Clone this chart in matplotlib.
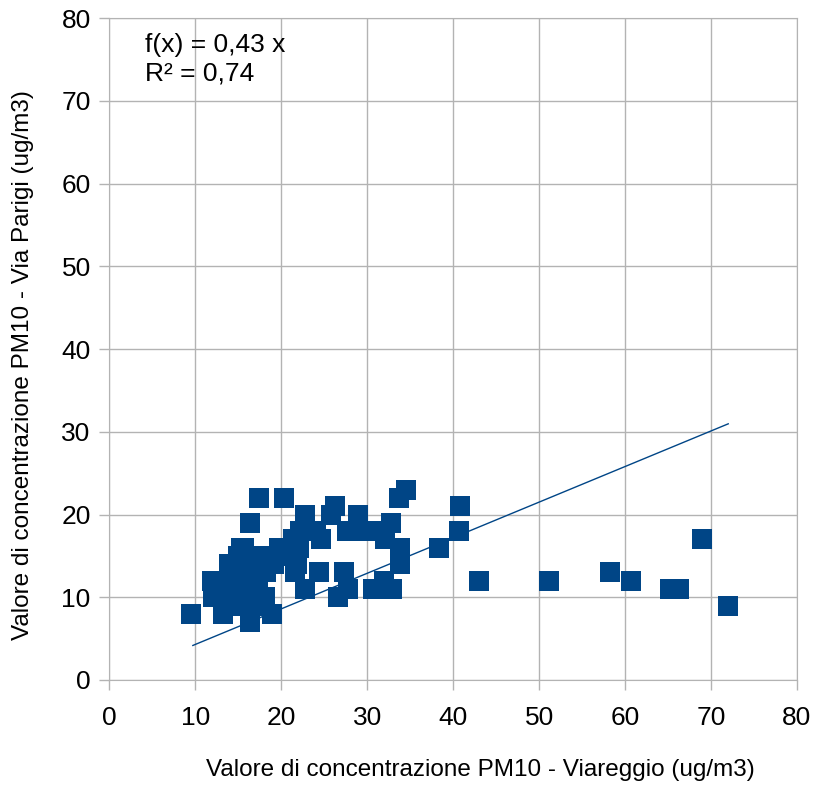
import matplotlib
matplotlib.use("Agg")
import matplotlib.pyplot as plt
import numpy as np

plt.rcParams['font.family'] = ['Liberation Sans', 'DejaVu Sans']

# PM10 Viareggio (x) vs Via Parigi (y), ug/m3
viareggio = [9.5, 72.0, 69.0, 66.3, 65.2, 60.7, 58.3, 51.2, 43.0, 40.8, 40.7, 38.3,
             34.5, 33.7, 33.8, 33.8, 32.8, 32.1, 32.0, 30.7, 32.9, 29.9, 28.9, 27.6,
             27.7, 27.3, 26.6, 26.3, 25.8, 24.6, 24.4, 23.5, 22.8, 22.8, 21.6, 21.4,
             20.3, 17.4, 16.4, 16.4, 18.9, 13.2, 19.7, 17.9, 15.3, 15.6, 13.9, 11.95,
             12.0, 15.4, 18.1, 24.0, 30.5, 22.2, 14.0, 15.0, 16.0, 17.0, 14.2, 15.2,
             16.2, 17.2, 19.0, 20.0, 21.0, 13.0, 14.5, 16.5, 17.5, 18.2, 19.2, 20.5,
             21.5, 22.0, 21.8, 16.0, 15.0, 17.3, 13.2, 12.6, 15.1, 14.3, 16.3, 28.0]
via_parigi = [8, 9, 17, 11, 11, 12, 13, 12, 12, 21, 18, 16,
              23, 22, 16, 14, 19, 17, 12, 11, 11, 18, 20, 18,
              11, 13, 10, 21, 20, 17, 13, 18, 20, 11, 13, 17,
              22, 22, 19, 7, 8, 8, 16, 15, 16, 16, 14, 12,
              10, 9, 10, 18, 18, 18, 11, 12, 13, 12, 13, 10,
              11, 14, 15, 15, 16, 11, 9, 10, 9, 13, 14, 16,
              15, 16, 14, 14, 15, 11, 12, 11, 13, 10, 12, 18]

slope = 0.43
trend_x = [9.7, 72.0]

fig = plt.figure(figsize=(8.17, 7.87), dpi=100)
ax = fig.add_axes([0.134, 0.136, 0.8415, 0.841])

ax.scatter(viareggio, via_parigi, marker='s', s=200, color='#004586', zorder=3, linewidths=0)
tx = np.array(trend_x)
ax.plot(tx, slope * tx, color='#004586', linewidth=1.0, zorder=4)

ax.set_xlim(0, 80)
ax.set_ylim(0, 80)
ax.set_xticks(range(0, 81, 10))
ax.set_yticks(range(0, 81, 10))
ax.grid(True, color='#b3b3b3', linewidth=1.0)
ax.set_axisbelow(True)
for s in ax.spines.values():
    s.set_color('#b3b3b3')
ax.tick_params(direction='out', length=7.5, width=1.0, color='#b3b3b3', labelsize=19)
ax.tick_params(axis='x', pad=11)
ax.tick_params(axis='y', pad=6)

ax.set_xlabel("Valore di concentrazione PM10 - Viareggio (ug/m3)", fontsize=17.5, va='center')
ax.set_ylabel("Valore di concentrazione PM10 - Via Parigi (ug/m3)", fontsize=17.5, va='center')
ax.xaxis.set_label_coords(0.539, -0.136)
ax.yaxis.set_label_coords(-0.126, 0.476)

ax.text(4.1, 75.9, "f(x) = 0,43 x", fontsize=19, va='baseline')
ax.text(4.1, 72.5, "R² = 0,74", fontsize=19, va='baseline')

fig.savefig("out.png", dpi=100)
